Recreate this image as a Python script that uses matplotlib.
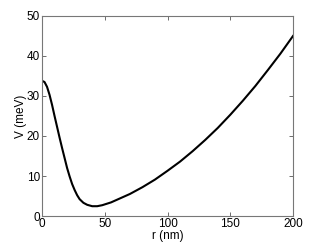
import matplotlib.pyplot as plt

# potential profile
r_nm = [0, 2, 4, 6, 8, 10, 12, 14, 16, 18, 20, 22, 24, 26, 28, 30, 33, 36,
        40, 44, 48, 55, 60, 70, 80, 90, 100, 110, 120, 130, 140, 150, 160,
        170, 180, 190, 200]
v_mev = [33.8, 33.5, 32.3, 30.3, 27.8, 25.0, 22.3, 19.6, 17.0, 14.5, 12.0,
         9.9, 8.0, 6.5, 5.2, 4.2, 3.3, 2.8, 2.45, 2.45, 2.7, 3.4, 4.1, 5.5,
         7.2, 9.1, 11.3, 13.6, 16.2, 19.0, 22.0, 25.3, 28.8, 32.5, 36.5,
         40.6, 45.0]

x_ticks = [0, 50, 100, 150, 200]
y_ticks = [0, 10, 20, 30, 40, 50]

plt.rcParams['font.family'] = ['Liberation Sans', 'DejaVu Sans']

fig = plt.figure(figsize=(3.24, 2.43), dpi=100)
ax = fig.add_axes([42 / 324, 27 / 243, 251 / 324, 200 / 243])
ax.plot(r_nm, v_mev, color='black', linewidth=1.5)

ax.set_xlim(0, 200)
ax.set_ylim(0, 50)
ax.set_xticks(x_ticks)
ax.set_yticks(y_ticks)
ax.tick_params(direction='in', length=3, width=0.6, labelsize=8.5,
               top=True, right=True, color='#555555', pad=1.5)
for s in ax.spines.values():
    s.set_color('#777777')
    s.set_linewidth(0.8)
ax.set_xlabel('r (nm)', fontsize=8.5, labelpad=0)
ax.set_ylabel('V (meV)', fontsize=8.5, labelpad=0)

fig.savefig('out.png', dpi=100)
